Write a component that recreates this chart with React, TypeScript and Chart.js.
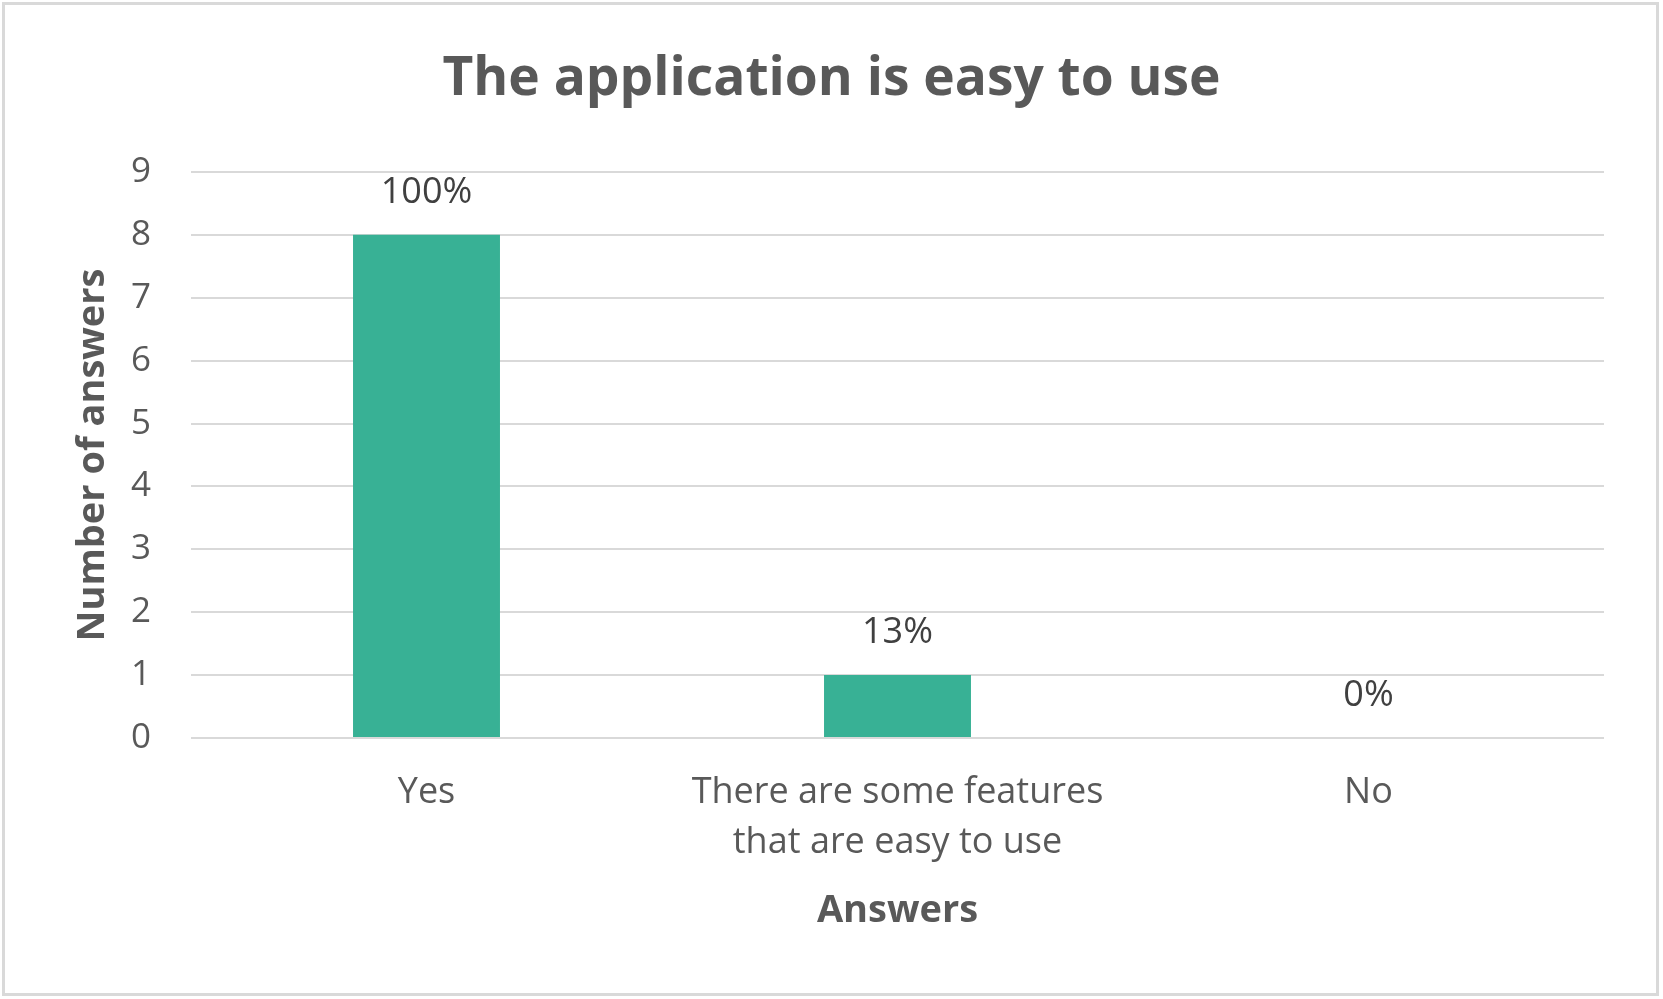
import React, { useEffect, useRef } from "react";
import { Chart, registerables } from "chart.js";

Chart.register(...registerables);

const categories: (string | string[])[] = [
  "Yes",
  ["There are some features", "that are easy to use"],
  "No",
];
const answerCounts = [8, 1, 0];
const percentLabels = ["100%", "13%", "0%"];
const yMin = 0;
const yMax = 9;
const yStep = 1;
const chartTitle = "The application is easy to use";
const xAxisTitle = "Answers";
const yAxisTitle = "Number of answers";

const FONT = "'Open Sans', sans-serif";
const TEXT = "#595959";
const LABEL = "#404040";
const GRID = "#d9d9d9";
const BAR = "#38B195";

const W = 1663;
const H = 999;

const frame = {
  id: "frame",
  beforeDraw(chart: any) {
    const { ctx } = chart;
    ctx.save();
    ctx.fillStyle = "#ffffff";
    ctx.fillRect(0, 0, chart.width, chart.height);
    ctx.strokeStyle = GRID;
    ctx.lineWidth = 3;
    ctx.strokeRect(3.5, 3.5, chart.width - 9, chart.height - 8);
    ctx.restore();
  },
};

const valueLabels = {
  id: "valueLabels",
  afterDatasetsDraw(chart: any) {
    const { ctx } = chart;
    const meta = chart.getDatasetMeta(0);
    ctx.save();
    ctx.font = `36px ${FONT}`;
    ctx.fillStyle = LABEL;
    ctx.textAlign = "center";
    ctx.textBaseline = "middle";
    meta.data.forEach((el: any, i: number) => {
      ctx.fillText(percentLabels[i], el.x, el.y - 42);
    });
    ctx.restore();
  },
};

export default function App() {
  const ref = useRef<HTMLCanvasElement | null>(null);

  useEffect(() => {
    document.body.style.margin = "0";
    document.documentElement.style.overflow = "hidden";
    const canvas = ref.current;
    if (!canvas) return;
    const chart = new Chart(canvas, {
      type: "bar",
      data: {
        labels: categories,
        datasets: [
          {
            data: answerCounts,
            backgroundColor: BAR,
            borderWidth: 0,
            categoryPercentage: 1,
            barPercentage: 0.312,
          },
        ],
      },
      options: {
        animation: false,
        responsive: false,
        devicePixelRatio: 1,
        layout: { padding: { left: 59, right: 59, top: 0, bottom: 0 } },
        plugins: {
          legend: { display: false },
          tooltip: { enabled: false },
          title: {
            display: true,
            text: chartTitle,
            color: TEXT,
            font: { family: FONT, size: 53.3, weight: "bold", lineHeight: 1.2 },
            padding: { top: 48, bottom: 60 },
          },
        },
        scales: {
          x: {
            grid: { display: false, drawTicks: false },
            border: { display: false },
            ticks: {
              color: TEXT,
              font: { family: FONT, size: 36, lineHeight: 1.39 },
              padding: 30,
              maxRotation: 0,
              autoSkip: false,
            },
            title: {
              display: true,
              text: xAxisTitle,
              color: TEXT,
              font: { family: FONT, size: 38, weight: "bold", lineHeight: 1.2 },
              padding: { top: 0, bottom: 65.2 },
            },
            afterFit(scale: any) {
              scale.height = 261;
            },
          },
          y: {
            min: yMin,
            max: yMax,
            grid: { color: GRID, lineWidth: 2, drawTicks: false },
            border: { display: false },
            ticks: {
              stepSize: yStep,
              color: TEXT,
              font: { family: FONT, size: 35 },
              padding: 40,
            },
            title: {
              display: true,
              text: yAxisTitle,
              color: TEXT,
              font: { family: FONT, size: 38, weight: "bold", lineHeight: 1.2 },
              padding: { top: 11.2, bottom: 0 },
            },
            afterFit(scale: any) {
              scale.width = 132;
            },
          },
        },
      },
      plugins: [frame, valueLabels],
    });
    return () => chart.destroy();
  }, []);

  return (
    <div style={{ width: W, height: H }}>
      <canvas ref={ref} width={W} height={H} style={{ display: "block", width: W, height: H }} />
    </div>
  );
}
